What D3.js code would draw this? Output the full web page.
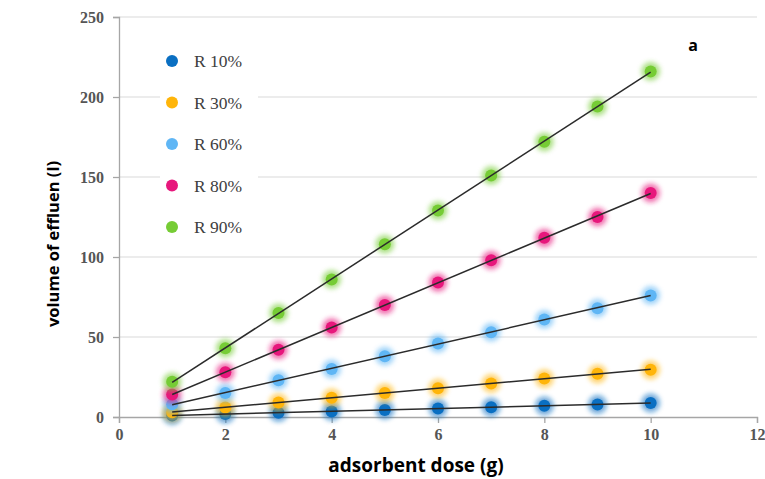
<!DOCTYPE html>
<html>
<head>
<meta charset="utf-8">
<script src="https://cdn.jsdelivr.net/npm/d3@7/dist/d3.min.js"></script>
<style>
  html, body { margin: 0; padding: 0; background: #fff; }
  svg { display: block; }
</style>
</head>
<body>
<svg id="chart" width="765" height="479"></svg>
<script>
// Adsorbent dose (g)
const doses = [1, 2, 3, 4, 5, 6, 7, 8, 9, 10];

// Volume of effluent (l) treated for each removal level
const r10 = [1.0, 1.8, 2.7, 3.5, 4.4, 5.3, 6.1, 7.0, 7.8, 8.8];
const r30 = [3, 6, 9, 12, 15, 18, 21, 24, 27, 29.5];
const r60 = [8, 15, 23, 30, 38, 46, 53, 61, 68, 76];
const r80 = [14, 28, 42, 56, 70, 84, 98, 112, 125, 140];
const r90 = [22, 43, 65, 86, 108, 129, 151, 172, 194, 216];

const seriesNames = ["R 10%", "R 30%", "R 60%", "R 80%", "R 90%"];
const seriesColors = ["#0a6fc2", "#ffb50a", "#5fb6f5", "#e7177c", "#76cc35"];
const seriesValues = [r10, r30, r60, r80, r90];

const xTicks = [0, 2, 4, 6, 8, 10, 12];
const yTicks = [0, 50, 100, 150, 200, 250];

const svg = d3.select("#chart");
const margin = { left: 119, right: 8, top: 17, bottom: 62 };
const W = 765, H = 479;

const x = d3.scaleLinear().domain([0, 12]).range([margin.left, W - margin.right]);
const y = d3.scaleLinear().domain([0, 250]).range([H - margin.bottom, margin.top]);

// glow filter for the markers
const defs = svg.append("defs");
const glow = defs.append("filter").attr("id", "glow")
  .attr("x", "-100%").attr("y", "-100%").attr("width", "300%").attr("height", "300%");
glow.append("feGaussianBlur").attr("stdDeviation", 2.4);

// horizontal gridlines
svg.append("g")
  .selectAll("line")
  .data(yTicks.filter(d => d > 0))
  .join("line")
  .attr("x1", x(0)).attr("x2", x(12))
  .attr("y1", d => y(d)).attr("y2", d => y(d))
  .attr("stroke", "#d9d9d9").attr("stroke-width", 1.2);

// axes
const axisColor = "#a6a6a6";
const yAxis = svg.append("g")
  .attr("transform", `translate(${x(0)},0)`)
  .call(d3.axisLeft(y).tickValues(yTicks).tickSize(6).tickPadding(9).tickFormat(d3.format("d")));
const xAxis = svg.append("g")
  .attr("transform", `translate(0,${y(0)})`)
  .call(d3.axisBottom(x).tickValues(xTicks).tickSize(6).tickPadding(6).tickFormat(d3.format("d")));
[xAxis, yAxis].forEach(g => {
  g.select(".domain").attr("stroke", axisColor).attr("stroke-width", 1.3);
  g.selectAll(".tick line").attr("stroke", axisColor).attr("stroke-width", 1.3);
  g.selectAll(".tick text")
    .attr("fill", "#555")
    .attr("font-family", "'Liberation Serif', 'DejaVu Serif', serif")
    .attr("font-weight", "bold")
    .attr("font-size", 16);
});

// markers: a soft halo under a solid dot
const pts = svg.append("g");
seriesValues.forEach((vals, i) => {
  const data = vals.map((v, j) => ({ x: doses[j], y: v }));
  const g = pts.append("g");
  g.selectAll("circle.halo")
    .data(data).join("circle").attr("class", "halo")
    .attr("cx", d => x(d.x)).attr("cy", d => y(d.y))
    .attr("r", 9.4)
    .attr("fill", seriesColors[i]).attr("opacity", 0.6)
    .attr("filter", "url(#glow)");
  g.selectAll("circle.dot")
    .data(data).join("circle").attr("class", "dot")
    .attr("cx", d => x(d.x)).attr("cy", d => y(d.y))
    .attr("r", 6)
    .attr("fill", seriesColors[i]);
});

// linear trend line for each series (least squares over the doses)
function fit(xs, ys) {
  const mx = d3.mean(xs), my = d3.mean(ys);
  let num = 0, den = 0;
  xs.forEach((xv, k) => { num += (xv - mx) * (ys[k] - my); den += (xv - mx) * (xv - mx); });
  const b = num / den;
  return { a: my - b * mx, b };
}
const trend = svg.append("g");
seriesValues.forEach(vals => {
  const f = fit(doses, vals);
  const x0 = d3.min(doses), x1 = d3.max(doses);
  trend.append("line")
    .attr("x1", x(x0)).attr("y1", y(f.a + f.b * x0))
    .attr("x2", x(x1)).attr("y2", y(f.a + f.b * x1))
    .attr("stroke", "#2b2b2b").attr("stroke-width", 1.5);
});

// legend
const legend = svg.append("g");
legend.append("rect")
  .attr("x", 160).attr("y", 40).attr("width", 98).attr("height", 205)
  .attr("fill", "#fff");
seriesNames.forEach((name, i) => {
  const ly = 61 + i * 41.5;
  legend.append("circle").attr("cx", 172).attr("cy", ly).attr("r", 6).attr("fill", seriesColors[i]);
  legend.append("text")
    .attr("x", 194).attr("y", ly + 6)
    .attr("font-family", "'Liberation Serif', 'DejaVu Serif', serif")
    .attr("font-size", 17.5).attr("fill", "#404040")
    .text(name);
});

// panel letter
svg.append("text")
  .attr("x", 693).attr("y", 51)
  .attr("text-anchor", "middle")
  .attr("font-family", "'Open Sans', sans-serif").attr("font-weight", "bold")
  .attr("font-size", 16).attr("fill", "#000")
  .text("a");

// axis titles
svg.append("text")
  .attr("x", 416).attr("y", 472)
  .attr("text-anchor", "middle")
  .attr("font-family", "'Open Sans', sans-serif").attr("font-weight", "bold")
  .attr("font-size", 19).attr("fill", "#000")
  .text("adsorbent dose (g)");
svg.append("text")
  .attr("transform", "translate(59,244) rotate(-90)")
  .attr("text-anchor", "middle")
  .attr("font-family", "'Open Sans', sans-serif").attr("font-weight", "bold")
  .attr("font-size", 16.5).attr("fill", "#000")
  .text("volume of effluen (l)");
</script>
</body>
</html>
